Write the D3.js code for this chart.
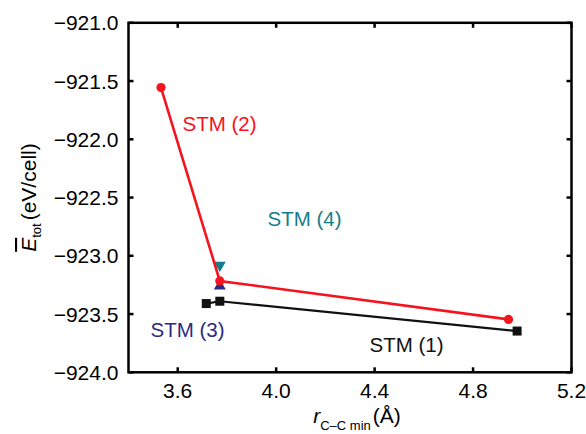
<!DOCTYPE html>
<html>
<head>
<meta charset="utf-8">
<script src="https://cdn.jsdelivr.net/npm/d3@7"></script>
<style>
  html, body { margin: 0; padding: 0; background: #fff; }
  svg { display: block; font-family: "Liberation Sans", Arial, sans-serif; }
</style>
</head>
<body>
<svg id="chart" width="586" height="434"></svg>
<script>
// Minimum C–C distance (Å) and average total energy (eV/cell) per structure model
const stm1X = [3.716, 3.771, 4.979];
const stm1Y = [-923.41, -923.39, -923.646];
const stm2X = [3.532, 3.771, 4.944];
const stm2Y = [-921.556, -923.216, -923.546];
const stm3X = [3.771];
const stm3Y = [-923.26];
const stm4X = [3.771];
const stm4Y = [-923.08];

const xTicks = [3.6, 4.0, 4.4, 4.8, 5.2];
const yTicks = [-924.0, -923.5, -923.0, -922.5, -922.0, -921.5, -921.0];

const seriesLabels = ["STM (1)", "STM (2)", "STM (3)", "STM (4)"];

const colors = {
  stm1: "#111111",
  stm2: "#f5141e",
  stm3: "#2d2a86",
  stm4: "#157e8a"
};

const margin = { left: 128.5, right: 586 - 571.5, top: 22.8, bottom: 434 - 372.3 };
const W = 586, H = 434;

const svg = d3.select("#chart");

const x = d3.scaleLinear().domain([3.4, 5.2]).range([margin.left, W - margin.right]);
const y = d3.scaleLinear().domain([-924, -921]).range([H - margin.bottom, margin.top]);

const fmt = d3.format(".1f");
const tickLen = 5;

// Data layers
const zip = (xs, ys) => xs.map((v, i) => [v, ys[i]]);
const line = d3.line().x(d => x(d[0])).y(d => y(d[1]));

const s1 = zip(stm1X, stm1Y);
const s2 = zip(stm2X, stm2Y);

svg.append("path").datum(s1)
  .attr("d", line).attr("fill", "none")
  .attr("stroke", colors.stm1).attr("stroke-width", 2.2);

svg.append("g").selectAll("rect").data(s1).join("rect")
  .attr("x", d => x(d[0]) - 4.5).attr("y", d => y(d[1]) - 4.5)
  .attr("width", 9).attr("height", 9)
  .attr("fill", colors.stm1);

// Triangles for STM (3) and STM (4)
const tri = d3.symbol().type(d3.symbolTriangle).size(62);
svg.append("g").selectAll("path").data(zip(stm4X, stm4Y)).join("path")
  .attr("d", tri)
  .attr("transform", d => `translate(${x(d[0])},${y(d[1])}) rotate(180)`)
  .attr("fill", colors.stm4);
svg.append("g").selectAll("path").data(zip(stm3X, stm3Y)).join("path")
  .attr("d", tri)
  .attr("transform", d => `translate(${x(d[0])},${y(d[1])})`)
  .attr("fill", colors.stm3);

svg.append("path").datum(s2)
  .attr("d", line).attr("fill", "none")
  .attr("stroke", colors.stm2).attr("stroke-width", 2.6);

svg.append("g").selectAll("circle").data(s2).join("circle")
  .attr("cx", d => x(d[0])).attr("cy", d => y(d[1]))
  .attr("r", 4.6).attr("fill", colors.stm2);

// Frame with inward ticks on all four sides
const x0 = x.range()[0], x1 = x.range()[1];
const y0 = y.range()[0], y1 = y.range()[1];
const frame = svg.append("g").attr("stroke", "#000").attr("stroke-width", 2.5);

frame.selectAll("line.xb").data(xTicks).join("line")
  .attr("x1", d => x(d)).attr("x2", d => x(d))
  .attr("y1", y0).attr("y2", y0 - tickLen);
frame.selectAll("line.xt").data(xTicks).join("line")
  .attr("x1", d => x(d)).attr("x2", d => x(d))
  .attr("y1", y1).attr("y2", y1 + tickLen);
frame.selectAll("line.yl").data(yTicks).join("line")
  .attr("y1", d => y(d)).attr("y2", d => y(d))
  .attr("x1", x0).attr("x2", x0 + tickLen);
frame.selectAll("line.yr").data(yTicks).join("line")
  .attr("y1", d => y(d)).attr("y2", d => y(d))
  .attr("x1", x1).attr("x2", x1 - tickLen);

frame.append("rect")
  .attr("x", x0).attr("y", y1)
  .attr("width", x1 - x0).attr("height", y0 - y1)
  .attr("fill", "none");

// Tick labels
svg.append("g").selectAll("text").data(xTicks).join("text")
  .attr("x", d => x(d)).attr("y", y0 + 26)
  .attr("text-anchor", "middle")
  .attr("font-size", 21)
  .text(d => fmt(d));

svg.append("g").selectAll("text").data(yTicks).join("text")
  .attr("x", x0 - 10).attr("y", d => y(d) + 7.5)
  .attr("text-anchor", "end")
  .attr("font-size", 21)
  .text(d => fmt(d));

// Axis titles
const xt = svg.append("text")
  .attr("x", 357).attr("y", 423)
  .attr("text-anchor", "middle")
  .attr("font-size", 21);
xt.append("tspan").attr("font-style", "italic").text("r");
xt.append("tspan").attr("font-size", 13).attr("dy", 7).text("C–C min");
xt.append("tspan").attr("dy", -7).attr("dx", 2).text("(Å)");

const yt = svg.append("text")
  .attr("transform", `translate(36,${(y0 + y1) / 2}) rotate(-90)`)
  .attr("text-anchor", "middle")
  .attr("font-size", 21);
yt.append("tspan").attr("font-style", "italic")
  .attr("text-decoration", "overline").text("E");
yt.append("tspan").attr("font-size", 13).attr("dy", 5).text("tot");
yt.append("tspan").attr("dy", -5).attr("dx", 3).text("(eV/cell)");

// Series labels
const labelData = [
  { text: seriesLabels[0], x: 369.5, y: 351.5, color: colors.stm1 },
  { text: seriesLabels[1], x: 182.5, y: 130.5, color: colors.stm2 },
  { text: seriesLabels[2], x: 150.5, y: 336.5, color: colors.stm3 },
  { text: seriesLabels[3], x: 267.5, y: 226, color: colors.stm4 }
];
svg.append("g").selectAll("text").data(labelData).join("text")
  .attr("x", d => d.x).attr("y", d => d.y)
  .attr("font-size", 20.5)
  .attr("fill", d => d.color)
  .text(d => d.text);
</script>
</body>
</html>
